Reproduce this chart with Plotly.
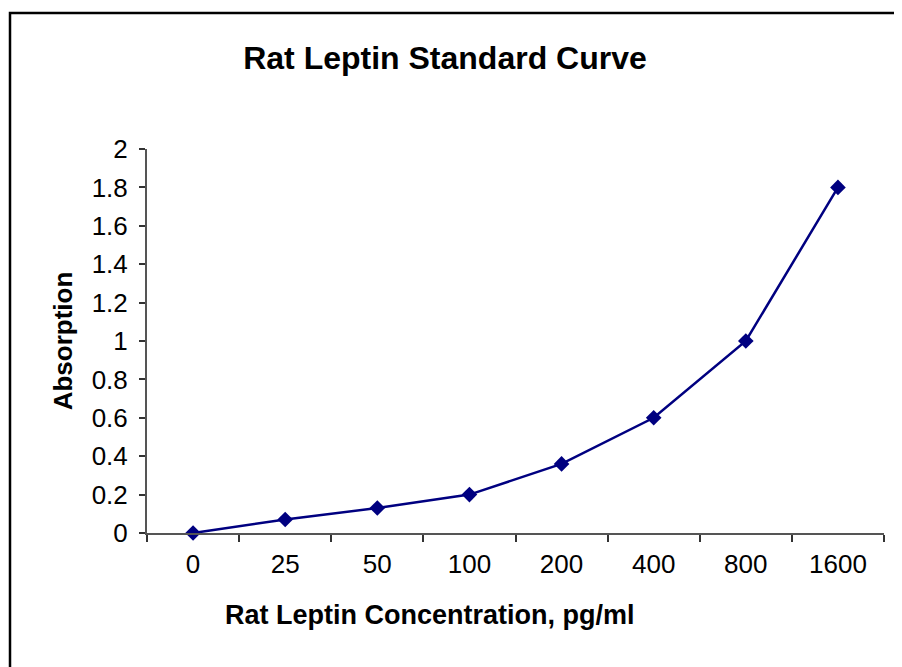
import plotly.graph_objects as go

categories = ["0", "25", "50", "100", "200", "400", "800", "1600"]
absorption = [0.0, 0.07, 0.13, 0.20, 0.36, 0.60, 1.00, 1.80]
y_ticks = [0, 0.2, 0.4, 0.6, 0.8, 1, 1.2, 1.4, 1.6, 1.8, 2]
y_tick_labels = ["0", "0.2", "0.4", "0.6", "0.8", "1", "1.2", "1.4", "1.6", "1.8", "2"]

# page body has an 8px margin; lay out in reference pixel coordinates minus that offset
OFF = 8
W, H = 902 - OFF, 667 - OFF
L, R, T, B = 147 - OFF, 18, 149 - OFF, 134
pw, ph = W - L - R, H - T - B

FONT = "Liberation Sans, Arial, sans-serif"

fig = go.Figure()
fig.add_trace(go.Scatter(
    x=categories, y=absorption, mode="lines+markers",
    line=dict(color="#000080", width=2.5),
    marker=dict(symbol="diamond", size=12, color="#000080"),
    showlegend=False, cliponaxis=False,
))

def px_x(x):
    return (x - OFF - L) / pw

def px_y(y):
    return 1 - (y - OFF - T) / ph

fig.update_layout(
    width=W, height=H,
    margin=dict(l=L, r=R, t=T, b=B, autoexpand=False),
    paper_bgcolor="white", plot_bgcolor="white",
    font=dict(family=FONT, color="#000", size=26),
    title=dict(text="<b>Rat Leptin Standard Curve</b>", x=px_x(445), xref="paper",
               xanchor="center", y=1 - (58 - OFF) / H, yanchor="middle",
               font=dict(size=32, family=FONT, color="#000")),
    xaxis=dict(
        type="category", range=[-0.5, 7.5],
        showline=True, linecolor="#555", linewidth=2,
        ticks="outside", tickson="boundaries", ticklen=7, tickwidth=1.5, tickcolor="#333",
        showgrid=False, zeroline=False,
        tickfont=dict(size=26, family=FONT, color="#000"),
        ticklabelstandoff=7,
        automargin=False,
    ),
    yaxis=dict(
        range=[0, 2], tickvals=y_ticks, ticktext=y_tick_labels,
        showline=True, linecolor="#555", linewidth=2,
        ticks="outside", ticklen=6, tickwidth=1.5, tickcolor="#333",
        showgrid=False, zeroline=False,
        tickfont=dict(size=26, family=FONT, color="#000"),
        ticklabelstandoff=6,
        title=dict(text="<b>Absorption</b>", standoff=12,
                   font=dict(size=26, family=FONT, color="#000")),
        automargin=False,
    ),
)

fig.add_annotation(text="<b>Rat Leptin Concentration, pg/ml</b>", xref="paper", yref="paper",
                   x=px_x(430), y=px_y(615), xanchor="center", yanchor="middle",
                   showarrow=False, font=dict(size=27, family=FONT, color="#000"))

fig.add_shape(type="rect", xref="paper", yref="paper",
              x0=px_x(10), x1=px_x(W + 40), y0=px_y(H + 40), y1=px_y(13),
              line=dict(color="#000", width=2.5), fillcolor="rgba(0,0,0,0)", layer="below")

fig.write_html("out.html")
